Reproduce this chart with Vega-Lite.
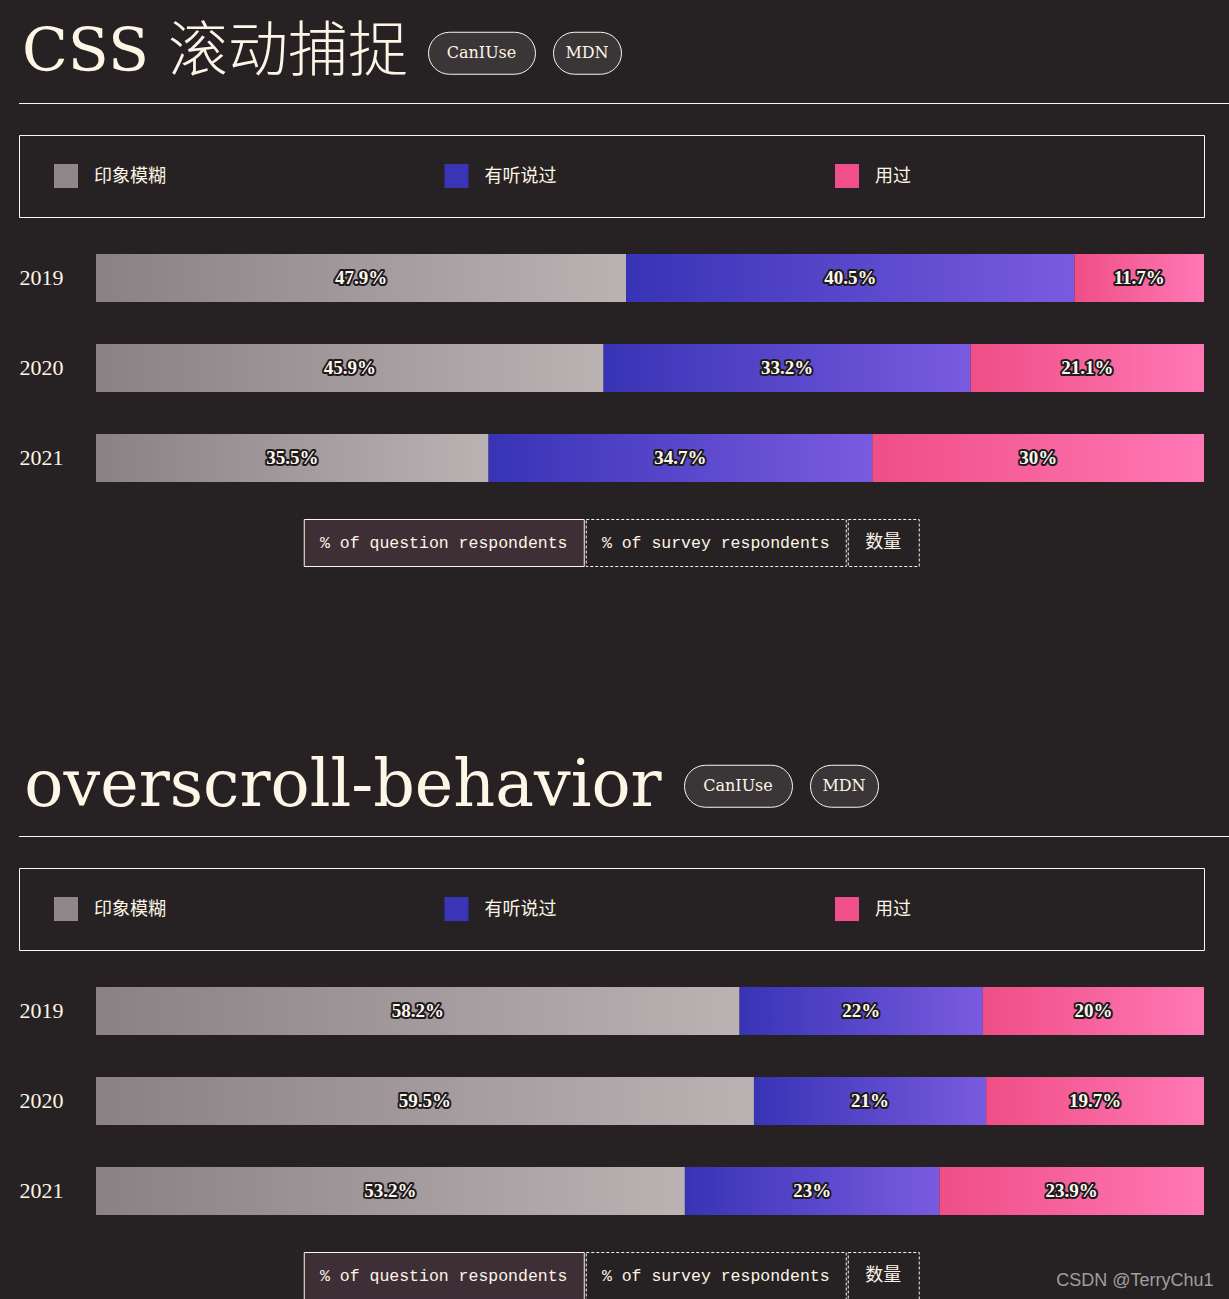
{
  "$schema": "https://vega.github.io/schema/vega-lite/v6.json",
  "background": "#262223",
  "padding": {"left": 18, "top": 20, "right": 0, "bottom": 0},
  "config": {
    "view": {"stroke": null},
    "text": {"color": "#fdf5e6"}
  },
  "title": {
    "text": "CSDN @TerryChu1",
    "orient": "bottom",
    "anchor": "end",
    "offset": -28,
    "dx": -17,
    "font": "Liberation Sans",
    "fontSize": 18,
    "fontWeight": "normal",
    "color": "#a19d9d"
  },
  "datasets": {
    "cats": [{"cat": "印象模糊"}, {"cat": "有听说过"}, {"cat": "用过"}],
    "snap": [
      {"year": "2019", "cat": "印象模糊", "share": 0.479},
      {"year": "2019", "cat": "有听说过", "share": 0.405},
      {"year": "2019", "cat": "用过", "share": 0.117},
      {"year": "2020", "cat": "印象模糊", "share": 0.459},
      {"year": "2020", "cat": "有听说过", "share": 0.332},
      {"year": "2020", "cat": "用过", "share": 0.211},
      {"year": "2021", "cat": "印象模糊", "share": 0.355},
      {"year": "2021", "cat": "有听说过", "share": 0.347},
      {"year": "2021", "cat": "用过", "share": 0.30}
    ],
    "over": [
      {"year": "2019", "cat": "印象模糊", "share": 0.582},
      {"year": "2019", "cat": "有听说过", "share": 0.22},
      {"year": "2019", "cat": "用过", "share": 0.20},
      {"year": "2020", "cat": "印象模糊", "share": 0.595},
      {"year": "2020", "cat": "有听说过", "share": 0.21},
      {"year": "2020", "cat": "用过", "share": 0.197},
      {"year": "2021", "cat": "印象模糊", "share": 0.532},
      {"year": "2021", "cat": "有听说过", "share": 0.23},
      {"year": "2021", "cat": "用过", "share": 0.239}
    ]
  },
  "spacing": 186,
  "vconcat": [
    {
      "spacing": 0,
      "vconcat": [
        {
          "hconcat": [
            {
              "width": 392, "height": 66,
              "data": {"values": [{"t": "CSS 滚动捕捉"}]},
              "mark": {"type": "text", "font": "'DejaVu Serif', 'Noto Sans CJK SC'", "fontSize": 60, "fontWeight": 300, "baseline": "middle", "align": "center"},
              "encoding": {"text": {"field": "t"}}
            },
            {
              "width": 107, "height": 42,
              "view": {"fill": "#3a3536", "stroke": "#fdf5e6", "strokeWidth": 1, "cornerRadius": 21},
              "data": {"values": [{"t": "CanIUse"}]},
              "mark": {"type": "text", "font": "DejaVu Serif", "fontSize": 16, "baseline": "middle"},
              "encoding": {"text": {"field": "t"}}
            },
            {
              "width": 68, "height": 42,
              "view": {"fill": "#3a3536", "stroke": "#fdf5e6", "strokeWidth": 1, "cornerRadius": 21},
              "data": {"values": [{"t": "MDN"}]},
              "mark": {"type": "text", "font": "DejaVu Serif", "fontSize": 16, "baseline": "middle"},
              "encoding": {"text": {"field": "t"}}
            }
          ],
          "spacing": 16,
          "center": true
        },
        {
          "width": 1211, "height": 48,
          "data": {"values": [{"k": "line"}]},
          "mark": {"type": "rule", "color": "#fdf5e6", "strokeWidth": 1},
          "encoding": {"y": {"field": "k", "type": "nominal", "axis": null, "scale": {"type": "point", "padding": 0, "align": 0.3646}}}
        },
        {
          "width": 1185, "height": 82,
          "view": {"stroke": "#fdf5e6", "strokeWidth": 1},
          "data": {"name": "cats"},
          "encoding": {
            "x": {"field": "cat", "type": "nominal", "axis": null, "scale": {"type": "point", "padding": 0.5173, "align": 0.1163}}
          },
          "layer": [
            {
              "mark": {"type": "point", "shape": "square", "size": 576, "filled": true, "opacity": 1, "strokeWidth": 0},
              "encoding": {"color": {"field": "cat", "type": "nominal", "legend": null, "scale": {"domain": ["印象模糊", "有听说过", "用过"], "range": ["#8f878a", "#3a34b6", "#f04f8a"]}}}
            },
            {
              "mark": {"type": "text", "align": "left", "dx": 28, "dy": 1, "baseline": "middle", "font": "Noto Sans CJK SC", "fontSize": 18},
              "encoding": {"text": {"field": "cat"}}
            }
          ]
        },
        {
          "spacing": 0,
          "center": true,
          "vconcat": [
            {
              "width": 1185, "height": 300,
              "data": {"name": "snap"},
              "encoding": {
                "y": {"field": "year", "type": "nominal", "scale": {"paddingInner": 0.4667, "paddingOuter": 0.4},
                  "axis": {"title": null, "domain": false, "ticks": false, "tickSize": 0, "labelAlign": "left", "labelPadding": 0, "labelFont": "Liberation Serif", "labelFontSize": 22, "labelColor": "#fdf5e6", "labelBaseline": "middle"}},
                "detail": {"field": "cat"},
                "order": {"field": "cat", "sort": "ascending"}
              },
              "layer": [
                {
                  "mark": {"type": "bar"},
                  "encoding": {
                    "x": {"field": "share", "type": "quantitative", "stack": "normalize", "axis": null, "scale": {"domain": [-0.0695, 1], "nice": false, "zero": false}},
                    "fill": {
                      "condition": [
                        {"test": "datum.cat === '印象模糊'", "value": {"gradient": "linear", "x1": 0, "y1": 0, "x2": 1, "y2": 0, "stops": [{"offset": 0, "color": "#8a8185"}, {"offset": 1, "color": "#bbb2b4"}]}},
                        {"test": "datum.cat === '有听说过'", "value": {"gradient": "linear", "x1": 0, "y1": 0, "x2": 1, "y2": 0, "stops": [{"offset": 0, "color": "#3833b5"}, {"offset": 1, "color": "#795be0"}]}}
                      ],
                      "value": {"gradient": "linear", "x1": 0, "y1": 0, "x2": 1, "y2": 0, "stops": [{"offset": 0, "color": "#ef4e86"}, {"offset": 1, "color": "#ff78b5"}]}
                    }
                  }
                },
                {
                  "mark": {"type": "text", "font": "Liberation Serif", "fontSize": 19, "fontWeight": "bold", "baseline": "middle", "stroke": "#1e1a1b", "strokeWidth": 4, "strokeJoin": "round", "fill": "#1e1a1b"},
                  "encoding": {
                    "x": {"field": "share", "type": "quantitative", "stack": "normalize", "bandPosition": 0.5, "axis": null},
                    "text": {"field": "share", "type": "quantitative", "format": ".1~%"}
                  }
                },
                {
                  "mark": {"type": "text", "font": "Liberation Serif", "fontSize": 19, "fontWeight": "bold", "baseline": "middle", "fill": "#fdf8ee"},
                  "encoding": {
                    "x": {"field": "share", "type": "quantitative", "stack": "normalize", "bandPosition": 0.5, "axis": null},
                    "text": {"field": "share", "type": "quantitative", "format": ".1~%"}
                  }
                }
              ]
            },
            {
              "spacing": 0,
              "hconcat": [
                {
                  "width": 280, "height": 47,
                  "view": {"fill": "#3e2f37", "stroke": "#fdf5e6", "strokeWidth": 1},
                  "data": {"values": [{"t": "% of question respondents"}]},
                  "mark": {"type": "text", "font": "Liberation Mono", "fontSize": 16.5, "baseline": "middle"},
                  "encoding": {"text": {"field": "t"}}
                },
                {
                  "width": 260, "height": 47,
                  "view": {"stroke": "#fdf5e6", "strokeWidth": 1, "strokeDash": [3, 2]},
                  "data": {"values": [{"t": "% of survey respondents"}]},
                  "mark": {"type": "text", "font": "Liberation Mono", "fontSize": 16.5, "baseline": "middle"},
                  "encoding": {"text": {"field": "t"}}
                },
                {
                  "width": 71, "height": 47,
                  "view": {"stroke": "#fdf5e6", "strokeWidth": 1, "strokeDash": [3, 2]},
                  "data": {"values": [{"t": "数量"}]},
                  "mark": {"type": "text", "font": "Noto Sans CJK SC", "fontSize": 18, "baseline": "middle"},
                  "encoding": {"text": {"field": "t"}}
                }
              ]
            }
          ]
        }
      ]
    },
    {
      "spacing": 0,
      "vconcat": [
        {
          "hconcat": [
            {
              "width": 648, "height": 66,
              "data": {"values": [{"t": "overscroll-behavior"}]},
              "mark": {"type": "text", "font": "'DejaVu Serif', 'Noto Sans CJK SC'", "fontSize": 65, "fontWeight": 300, "baseline": "middle", "align": "center"},
              "encoding": {"text": {"field": "t"}}
            },
            {
              "width": 108, "height": 42,
              "view": {"fill": "#3a3536", "stroke": "#fdf5e6", "strokeWidth": 1, "cornerRadius": 21},
              "data": {"values": [{"t": "CanIUse"}]},
              "mark": {"type": "text", "font": "DejaVu Serif", "fontSize": 16, "baseline": "middle"},
              "encoding": {"text": {"field": "t"}}
            },
            {
              "width": 68, "height": 42,
              "view": {"fill": "#3a3536", "stroke": "#fdf5e6", "strokeWidth": 1, "cornerRadius": 21},
              "data": {"values": [{"t": "MDN"}]},
              "mark": {"type": "text", "font": "DejaVu Serif", "fontSize": 16, "baseline": "middle"},
              "encoding": {"text": {"field": "t"}}
            }
          ],
          "spacing": 16,
          "center": true
        },
        {
          "width": 1211, "height": 48,
          "data": {"values": [{"k": "line"}]},
          "mark": {"type": "rule", "color": "#fdf5e6", "strokeWidth": 1},
          "encoding": {"y": {"field": "k", "type": "nominal", "axis": null, "scale": {"type": "point", "padding": 0, "align": 0.3646}}}
        },
        {
          "width": 1185, "height": 82,
          "view": {"stroke": "#fdf5e6", "strokeWidth": 1},
          "data": {"name": "cats"},
          "encoding": {
            "x": {"field": "cat", "type": "nominal", "axis": null, "scale": {"type": "point", "padding": 0.5173, "align": 0.1163}}
          },
          "layer": [
            {
              "mark": {"type": "point", "shape": "square", "size": 576, "filled": true, "opacity": 1, "strokeWidth": 0},
              "encoding": {"color": {"field": "cat", "type": "nominal", "legend": null, "scale": {"domain": ["印象模糊", "有听说过", "用过"], "range": ["#8f878a", "#3a34b6", "#f04f8a"]}}}
            },
            {
              "mark": {"type": "text", "align": "left", "dx": 28, "dy": 1, "baseline": "middle", "font": "Noto Sans CJK SC", "fontSize": 18},
              "encoding": {"text": {"field": "cat"}}
            }
          ]
        },
        {
          "spacing": 0,
          "center": true,
          "vconcat": [
            {
              "width": 1185, "height": 300,
              "data": {"name": "over"},
              "encoding": {
                "y": {"field": "year", "type": "nominal", "scale": {"paddingInner": 0.4667, "paddingOuter": 0.4},
                  "axis": {"title": null, "domain": false, "ticks": false, "tickSize": 0, "labelAlign": "left", "labelPadding": 0, "labelFont": "Liberation Serif", "labelFontSize": 22, "labelColor": "#fdf5e6", "labelBaseline": "middle"}},
                "detail": {"field": "cat"},
                "order": {"field": "cat", "sort": "ascending"}
              },
              "layer": [
                {
                  "mark": {"type": "bar"},
                  "encoding": {
                    "x": {"field": "share", "type": "quantitative", "stack": "normalize", "axis": null, "scale": {"domain": [-0.0695, 1], "nice": false, "zero": false}},
                    "fill": {
                      "condition": [
                        {"test": "datum.cat === '印象模糊'", "value": {"gradient": "linear", "x1": 0, "y1": 0, "x2": 1, "y2": 0, "stops": [{"offset": 0, "color": "#8a8185"}, {"offset": 1, "color": "#bbb2b4"}]}},
                        {"test": "datum.cat === '有听说过'", "value": {"gradient": "linear", "x1": 0, "y1": 0, "x2": 1, "y2": 0, "stops": [{"offset": 0, "color": "#3833b5"}, {"offset": 1, "color": "#795be0"}]}}
                      ],
                      "value": {"gradient": "linear", "x1": 0, "y1": 0, "x2": 1, "y2": 0, "stops": [{"offset": 0, "color": "#ef4e86"}, {"offset": 1, "color": "#ff78b5"}]}
                    }
                  }
                },
                {
                  "mark": {"type": "text", "font": "Liberation Serif", "fontSize": 19, "fontWeight": "bold", "baseline": "middle", "stroke": "#1e1a1b", "strokeWidth": 4, "strokeJoin": "round", "fill": "#1e1a1b"},
                  "encoding": {
                    "x": {"field": "share", "type": "quantitative", "stack": "normalize", "bandPosition": 0.5, "axis": null},
                    "text": {"field": "share", "type": "quantitative", "format": ".1~%"}
                  }
                },
                {
                  "mark": {"type": "text", "font": "Liberation Serif", "fontSize": 19, "fontWeight": "bold", "baseline": "middle", "fill": "#fdf8ee"},
                  "encoding": {
                    "x": {"field": "share", "type": "quantitative", "stack": "normalize", "bandPosition": 0.5, "axis": null},
                    "text": {"field": "share", "type": "quantitative", "format": ".1~%"}
                  }
                }
              ]
            },
            {
              "spacing": 0,
              "hconcat": [
                {
                  "width": 280, "height": 47,
                  "view": {"fill": "#3e2f37", "stroke": "#fdf5e6", "strokeWidth": 1},
                  "data": {"values": [{"t": "% of question respondents"}]},
                  "mark": {"type": "text", "font": "Liberation Mono", "fontSize": 16.5, "baseline": "middle"},
                  "encoding": {"text": {"field": "t"}}
                },
                {
                  "width": 260, "height": 47,
                  "view": {"stroke": "#fdf5e6", "strokeWidth": 1, "strokeDash": [3, 2]},
                  "data": {"values": [{"t": "% of survey respondents"}]},
                  "mark": {"type": "text", "font": "Liberation Mono", "fontSize": 16.5, "baseline": "middle"},
                  "encoding": {"text": {"field": "t"}}
                },
                {
                  "width": 71, "height": 47,
                  "view": {"stroke": "#fdf5e6", "strokeWidth": 1, "strokeDash": [3, 2]},
                  "data": {"values": [{"t": "数量"}]},
                  "mark": {"type": "text", "font": "Noto Sans CJK SC", "fontSize": 18, "baseline": "middle"},
                  "encoding": {"text": {"field": "t"}}
                }
              ]
            }
          ]
        }
      ]
    }
  ]
}
